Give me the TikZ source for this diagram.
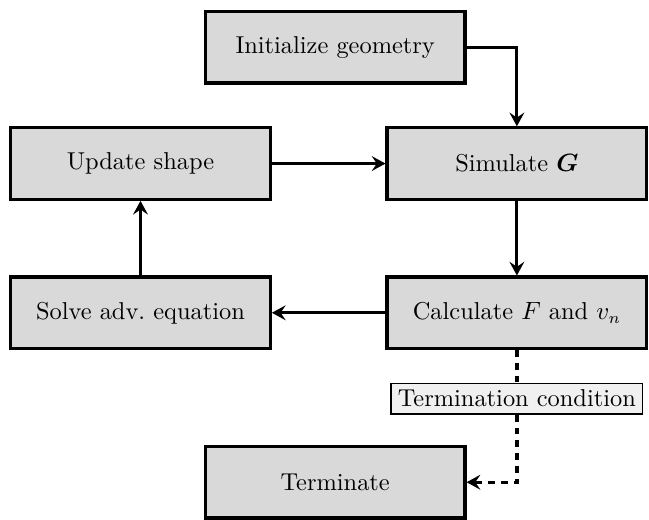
\documentclass[tikz,border=0pt]{standalone}
\usepackage{amsmath}
\usepackage{amssymb}
\usepackage{bm}
\usepackage{xcolor}
\usepackage{tikz}
\usetikzlibrary{positioning,arrows.meta}
\tikzset{main node/.style={rectangle,fill=gray!30,draw,line width=1.4pt,minimum width=4cm,minimum height=1.1cm},
	cond node/.style={rectangle,fill=gray!12,draw,semithick,inner sep=3pt},}

\begin{document}
\begin{tikzpicture}[font=\fontsize{10.7pt}{13pt}\selectfont,>={Stealth[length=6pt,width=6.5pt,inset=2.2pt]}]
	\useasboundingbox (-2.165,-5.49) rectangle (7.835,2.52);
    \node[main node] (2) {Update shape};
    \node[main node] (1) at (3,1.79) {Initialize geometry};
    \node[main node] (3) [right = 1.75cm of 2] {Simulate $\bm{G}$};
    \node[main node] (5) [below = 1.15cm of 2] {Solve adv.\ equation};
    \node[main node] (4) [right = 1.75cm of 5] {Calculate $F$ and $v_n$};
    \node[cond node] (6) [below = .5cm of 4] {Termination condition};
    \node[main node] (7) at (3,-4.91) {Terminate};

    \path[draw,->,line width=1.4pt]
    (2) edge node {} (3)
    (3) edge node {} (4)
    (4) edge node {} (5)
    (5) edge node {} (2)
    ;
    \draw[->,line width=1.4pt] (1) -| (3);

    \path[draw,line width=1.5pt,dash pattern=on 3pt off 2.6pt]
    (4) edge node {} (6)
    ;
    \draw[->,line width=1.5pt,dash pattern=on 3pt off 2.6pt] (6) |- (7);
\end{tikzpicture}
\end{document}
